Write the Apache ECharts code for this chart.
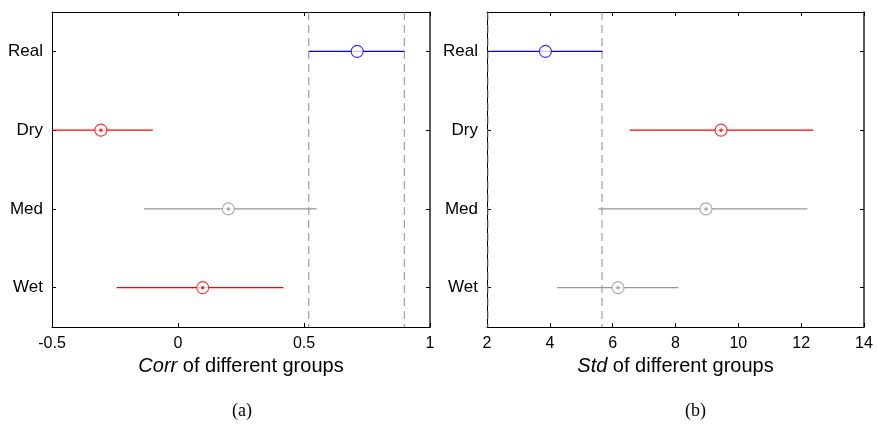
<!DOCTYPE html>
<html><head><meta charset="utf-8">
<script src="https://cdn.jsdelivr.net/npm/echarts@6/dist/echarts.min.js"></script>
<style>html,body{margin:0;padding:0;background:#fff}#c{width:877px;height:424px}</style>
</head><body><div id="c"></div>
<script>
// ---- data ----
const groups = ['Real', 'Dry', 'Med', 'Wet'];
const groupPos = [0, 1, 2, 3];

const corrMean = [0.711, -0.306, 0.200, 0.098];
const corrLow  = [0.519, -0.51, -0.135, -0.243];
const corrHigh = [0.898, -0.100, 0.550, 0.418];
const corrColors = ['#0000ff', '#ff0000', '#969696', '#ff0000'];
const corrRefLines = [0.519, 0.898];

const stdMean = [3.86, 9.45, 8.97, 6.17];
const stdLow  = [2.03, 6.54, 5.54, 4.23];
const stdHigh = [5.68, 12.39, 12.20, 8.09];
const stdColors = ['#0000ff', '#ff0000', '#969696', '#969696'];
const stdRefLines = [2.03, 5.66];

const centerDot = [false, true, true, true];

const corrAxis = { min: -0.5, max: 1, interval: 0.5 };
const stdAxis = { min: 2, max: 14, interval: 2 };

const corrName = '{i|Corr} of different groups';
const stdName = '{i|Std} of different groups';
const panelLabels = ['(a)', '(b)'];

// ---- chart ----
const FONT = '"Liberation Sans", Arial, Helvetica, sans-serif';
const SERIF = '"Liberation Serif", "Times New Roman", serif';
const chart = echarts.init(document.getElementById('c'), null, { renderer: 'canvas' });

function clampX(cs, x) { return Math.max(cs.x, Math.min(cs.x + cs.width, x)); }

function errRender(colors) {
  return function (params, api) {
    const cs = params.coordSys;
    const p1 = api.coord([api.value(0), api.value(2)]);
    const p2 = api.coord([api.value(1), api.value(2)]);
    return {
      type: 'line',
      shape: { x1: clampX(cs, p1[0]), y1: p1[1], x2: clampX(cs, p2[0]), y2: p2[1] },
      style: { stroke: colors[params.dataIndex], lineWidth: 1.2 }
    };
  };
}
function refRender(params, api) {
  const cs = params.coordSys;
  const p = api.coord([api.value(0), 0]);
  return {
    type: 'line',
    shape: { x1: p[0], y1: cs.y, x2: p[0], y2: cs.y + cs.height },
    style: { stroke: '#8a8a8a', lineWidth: 1, lineDash: [8, 5] }
  };
}

function bottomX(gi, ax, name) {
  return {
    type: 'value', gridIndex: gi, position: 'bottom',
    min: ax.min, max: ax.max, interval: ax.interval,
    axisLine: { show: true, onZero: false, lineStyle: { color: '#000', width: 1 } },
    axisTick: { show: true, inside: true, length: 4, lineStyle: { color: '#000' } },
    axisLabel: { show: true, margin: 9, fontSize: 16, color: '#000', fontFamily: FONT },
    splitLine: { show: false },
    name: name, nameLocation: 'middle', nameGap: 28,
    nameTextStyle: {
      fontSize: 20, color: '#000', fontFamily: FONT,
      rich: { i: { fontSize: 20, fontStyle: 'italic', color: '#000', fontFamily: FONT } }
    }
  };
}
function topX(gi, ax) {
  return {
    type: 'value', gridIndex: gi, position: 'top',
    min: ax.min, max: ax.max, interval: ax.interval,
    axisLine: { show: true, onZero: false, lineStyle: { color: '#000', width: 1 } },
    axisTick: { show: true, inside: true, length: 4, lineStyle: { color: '#000' } },
    axisLabel: { show: false }, splitLine: { show: false }
  };
}
function yAx(gi, pos, labels) {
  return {
    type: 'value', gridIndex: gi, position: pos, inverse: true,
    min: -0.5, max: groups.length - 0.5,
    axisLine: { show: true, onZero: false, lineStyle: { color: pos === 'right' ? '#222' : '#000', width: pos === 'right' ? 1.5 : 1 } },
    axisTick: { show: true, inside: true, length: 4, customValues: groupPos, lineStyle: { color: '#000' } },
    axisLabel: {
      show: labels, margin: 9, fontSize: 17, color: '#000', fontFamily: FONT,
      customValues: groupPos,
      formatter: function (v) { return groups[Math.round(v)] || ''; }
    },
    splitLine: { show: false }
  };
}

function panelSeries(xi, yi, means, lows, highs, colors, refs) {
  const errData = groups.map((g, i) => [lows[i], highs[i], groupPos[i]]);
  const markerData = groups.map((g, i) => ({
    value: [means[i], groupPos[i]],
    itemStyle: { color: '#fff', borderColor: colors[i], borderWidth: 1.1 }
  }));
  const dotData = [];
  groups.forEach((g, i) => {
    if (centerDot[i]) dotData.push({ value: [means[i], groupPos[i]], itemStyle: { color: colors[i] } });
  });
  return [
    {
      type: 'custom', xAxisIndex: xi, yAxisIndex: yi, silent: true,
      encode: { x: 0 }, renderItem: refRender,
      data: refs.map(v => [v]), z: 1
    },
    {
      type: 'custom', xAxisIndex: xi, yAxisIndex: yi, silent: true,
      encode: { x: [0, 1], y: 2 },
      renderItem: errRender(colors),
      data: errData, z: 2
    },
    {
      type: 'scatter', xAxisIndex: xi, yAxisIndex: yi, silent: true,
      symbol: 'circle', symbolSize: 12, data: markerData, z: 3
    },
    {
      type: 'scatter', xAxisIndex: xi, yAxisIndex: yi, silent: true,
      symbol: 'circle', symbolSize: 3.5, data: dotData, z: 4
    }
  ];
}

const option = {
  animation: false,
  backgroundColor: '#fff',
  grid: [
    { left: 52, top: 12, width: 378, height: 315 },
    { left: 487, top: 12, width: 377, height: 315 }
  ],
  xAxis: [bottomX(0, corrAxis, corrName), topX(0, corrAxis), bottomX(1, stdAxis, stdName), topX(1, stdAxis)],
  yAxis: [yAx(0, 'left', true), yAx(0, 'right', false), yAx(1, 'left', true), yAx(1, 'right', false)],
  series: [].concat(
    panelSeries(0, 0, corrMean, corrLow, corrHigh, corrColors, corrRefLines),
    panelSeries(2, 2, stdMean, stdLow, stdHigh, stdColors, stdRefLines)
  ),
  graphic: [
    { type: 'text', left: 232, top: 402, style: { text: panelLabels[0], fontSize: 18, fontFamily: SERIF, fill: '#000' } },
    { type: 'text', left: 685, top: 402, style: { text: panelLabels[1], fontSize: 18, fontFamily: SERIF, fill: '#000' } }
  ]
};
chart.setOption(option);
</script>
</body></html>
